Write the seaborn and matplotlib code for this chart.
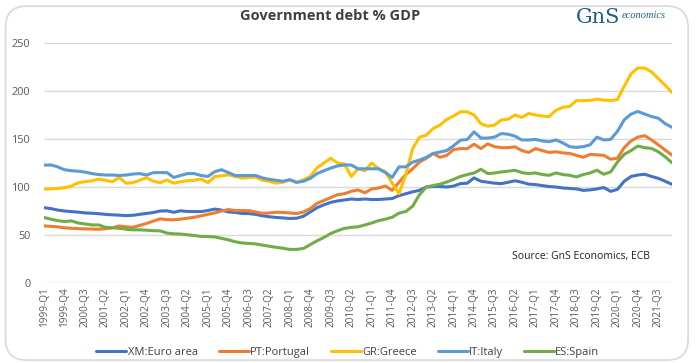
import matplotlib
matplotlib.use("Agg")
from matplotlib import pyplot as plt
from matplotlib.patches import FancyBboxPatch
import pandas as pd
import seaborn as sns

# quarterly data 1999-Q1 .. 2022-Q1
quarters = [f"{y}-Q{q}" for y in range(1999, 2023) for q in range(1, 5)][:93]

xm_euro_area = [
    78.5, 77.5, 76.0, 75.0, 74.4, 73.8, 73.0, 72.7, 72.2, 71.5,
    71.0, 70.7, 70.2, 70.5, 71.5, 72.5, 73.4, 75.0, 75.2, 73.7,
    75.2, 74.5, 74.4, 74.4, 75.5, 77.0, 76.0, 74.0, 73.5, 72.5,
    72.3, 71.5, 70.0, 69.0, 68.3, 67.8, 67.2, 67.5, 69.6, 74.0,
    78.5, 81.5, 84.0, 85.5, 86.5, 87.5, 87.0, 87.5, 87.0, 87.0,
    87.5, 88.0, 91.0, 93.0, 95.0, 96.5, 100.0, 100.5, 100.5, 100.0,
    101.0, 103.5, 104.0, 109.5, 106.0, 105.0, 104.0, 103.5, 105.0, 106.5,
    105.0, 103.0, 102.5, 101.5, 100.5, 100.0, 99.0, 98.5, 98.0, 96.5,
    97.0, 98.0, 99.5, 95.5, 97.5, 106.0, 111.0, 112.5, 113.3, 111.0,
    109.0, 106.0, 102.8,
]
pt_portugal = [
    59.5, 59.0, 58.5, 57.5, 57.0, 56.6, 56.4, 56.2, 56.0, 56.5,
    57.5, 59.5, 58.5, 58.0, 60.0, 62.0, 64.5, 66.8, 66.0, 65.8,
    66.5, 67.5, 68.5, 70.0, 71.5, 73.0, 75.0, 76.5, 75.5, 75.4,
    75.4, 74.0, 72.5, 73.0, 73.7, 73.5, 73.0, 72.3, 74.0, 77.5,
    83.0, 86.0, 89.0, 92.0, 93.0, 95.5, 97.0, 94.0, 98.0, 99.0,
    101.0, 96.5, 105.0, 113.0, 119.0, 126.0, 130.0, 135.0, 131.0, 133.0,
    139.0, 140.0, 140.0, 144.6, 140.0, 145.0, 142.0, 141.0, 141.0, 141.8,
    138.0, 136.0, 140.0, 138.0, 136.0, 136.7, 135.5, 135.0, 133.0, 131.0,
    134.0, 133.5, 133.0, 129.0, 130.0, 141.0, 148.0, 152.0, 153.5, 149.0,
    144.0, 138.5, 133.2,
]
gr_greece = [
    98.0, 98.0, 98.5, 99.3, 101.0, 104.5, 105.5, 106.5, 108.3, 107.0,
    105.5, 110.0, 104.0, 104.5, 107.0, 109.7, 106.0, 104.5, 107.3, 104.0,
    105.5, 106.5, 107.0, 108.3, 104.5, 111.0, 111.5, 112.8, 111.0, 109.3,
    110.0, 110.4, 107.0, 106.0, 104.0, 105.0, 107.6, 104.8, 107.6, 111.0,
    120.0, 125.0, 130.0, 125.0, 124.0, 111.0, 119.0, 117.0, 125.0, 119.0,
    116.0, 104.0, 93.0, 113.0, 140.0, 152.0, 154.0, 161.0, 164.5, 170.4,
    174.0, 178.4, 178.4, 175.0, 166.0, 163.4, 164.5, 170.0, 170.7, 175.0,
    172.5, 176.7, 175.0, 174.0, 173.4, 180.0, 183.0, 184.0, 190.0, 190.0,
    190.2, 191.6, 190.5, 190.2, 191.0, 205.0, 218.0, 224.0, 224.0, 220.0,
    213.0, 206.0, 198.6,
]
it_italy = [
    122.8, 123.0, 121.0, 118.0, 117.0, 116.5, 115.5, 114.0, 113.0, 112.5,
    112.5, 112.0, 112.5, 113.5, 114.0, 112.5, 115.0, 115.0, 115.0, 110.0,
    112.0, 114.0, 114.0, 112.0, 111.0, 116.0, 118.0, 115.0, 112.0, 112.0,
    112.0, 112.0, 109.5, 108.0, 107.0, 106.0, 107.6, 104.8, 106.0, 109.0,
    114.0, 117.0, 119.7, 122.0, 123.0, 123.0, 119.0, 119.0, 119.0, 119.0,
    115.0, 110.0, 121.0, 121.0, 126.0, 128.0, 131.0, 135.0, 136.5, 138.0,
    143.0, 148.8, 149.5, 157.5, 151.0, 151.0, 152.0, 155.7, 155.0, 153.0,
    149.0, 149.0, 149.6, 148.0, 147.2, 149.0, 146.0, 142.0, 141.3, 142.0,
    144.0, 152.0, 149.0, 149.6, 158.0, 170.0, 176.0, 178.7, 176.0, 173.4,
    171.7, 166.0, 162.2,
]
es_spain = [
    68.2, 66.5, 65.0, 64.0, 64.7, 62.5, 61.5, 60.5, 60.5, 58.0,
    57.5, 57.0, 56.0, 55.4, 55.4, 55.0, 54.5, 54.3, 52.0, 51.2,
    51.0, 50.2, 49.5, 48.5, 48.4, 48.0, 46.5, 45.0, 43.0, 41.7,
    41.2, 40.7, 39.5, 38.3, 37.2, 36.2, 35.0, 35.0, 36.0, 40.0,
    44.0, 47.5, 51.5, 54.5, 56.9, 58.0, 58.5, 60.5, 62.5, 65.0,
    66.5, 68.5, 72.8, 74.5, 80.0, 92.0, 100.0, 101.5, 103.0, 105.2,
    108.0, 111.0, 113.0, 114.6, 118.5, 114.0, 114.6, 115.7, 116.5, 117.4,
    115.0, 114.0, 114.7, 113.0, 112.2, 114.7, 113.0, 112.2, 110.5, 113.0,
    114.7, 117.5, 113.3, 115.7, 126.0, 134.0, 138.0, 142.7, 141.0, 140.2,
    136.7, 131.5, 125.2,
]

series_names = ["XM:Euro area", "PT:Portugal", "GR:Greece", "IT:Italy", "ES:Spain"]
series_values = [xm_euro_area, pt_portugal, gr_greece, it_italy, es_spain]
colors = ["#4472C4", "#ED7D31", "#FFC000", "#5B9BD5", "#70AD47"]

frames = []
for name, vals in zip(series_names, series_values):
    frames.append(pd.DataFrame({"idx": range(len(vals)), "value": vals, "series": name}))
df = pd.concat(frames, ignore_index=True)

sns.set_style("white")
plt.rcParams["font.family"] = ["Open Sans", "DejaVu Sans"]

fig = plt.figure(figsize=(7, 3.63), dpi=100)
ax = fig.add_axes([0.063, 0.2204, 0.897, 0.661])

sns.lineplot(data=df, x="idx", y="value", hue="series", hue_order=series_names,
             palette=colors, linewidth=2.2, ax=ax, legend=True)

ax.set_xlim(0, len(quarters) - 1)
ax.set_ylim(0, 250)
ax.set_yticks([0, 50, 100, 150, 200, 250])
ax.yaxis.grid(True, color="#D9D9D9", linewidth=1)
ax.set_axisbelow(True)
for s in ax.spines.values():
    s.set_visible(False)
ax.set_xticks(range(0, len(quarters), 3))
ax.set_xticklabels(quarters[::3], rotation=90, fontsize=7.2, color="#595959")
ax.tick_params(axis="y", labelsize=7.8, labelcolor="#595959", length=0, pad=10)
ax.tick_params(axis="x", length=0, pad=3)
ax.set_xlabel("")
ax.set_ylabel("")

handles, labels = ax.get_legend_handles_labels()
ax.get_legend().remove()
fig.legend(handles, labels, loc="center", bbox_to_anchor=(0.497, 0.03), ncol=5,
           frameon=False, fontsize=8, handlelength=2.7, handletextpad=0.1,
           columnspacing=1.9, labelcolor="#404040")

fig.text(0.472, 0.955, "Government debt % GDP", ha="center", va="center",
         fontsize=10.5, fontweight="bold", color="#404040")
ax.text(0.965, 0.11, "Source: GnS Economics, ECB", transform=ax.transAxes,
        ha="right", va="center", fontsize=7.5, color="#202020")

# logo
fig.text(0.822, 0.952, "GnS", ha="left", va="center", fontsize=15,
         color="#1E5E7E", family=["DejaVu Serif"])
fig.text(0.888, 0.958, "economics", ha="left", va="center", fontsize=7.5,
         color="#1E5E7E", style="italic", family=["Liberation Serif", "DejaVu Serif"])

frame = FancyBboxPatch((0.008, 0.008), 0.975, 0.975, boxstyle="round,pad=0,rounding_size=0.03",
                       transform=fig.transFigure, facecolor="none", edgecolor="#D9D9D9",
                       linewidth=1.2, mutation_aspect=700 / 363)
fig.patches.append(frame)

fig.savefig("out.png", dpi=100)
